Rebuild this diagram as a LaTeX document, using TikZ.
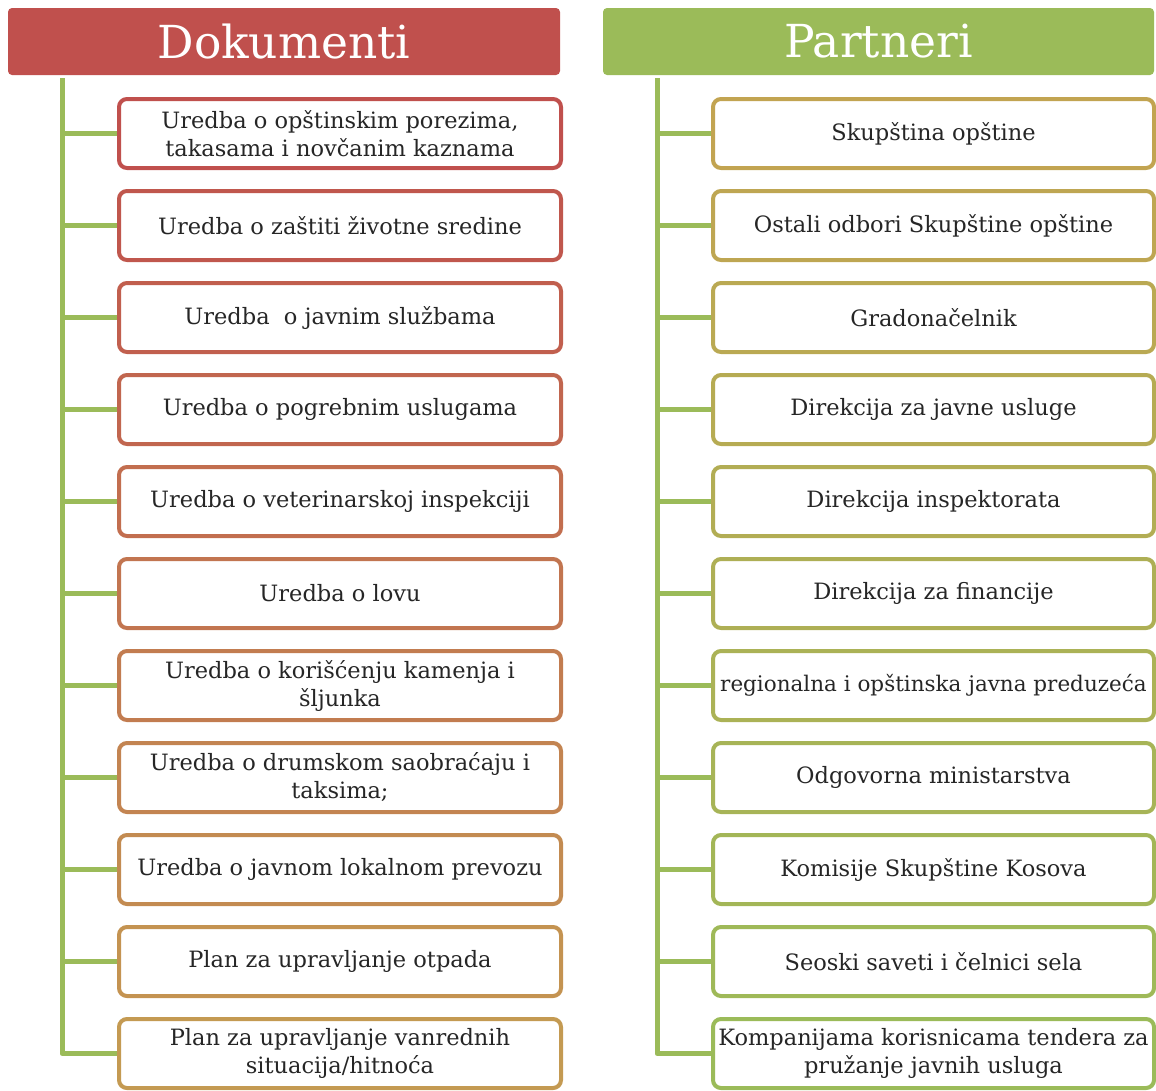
\documentclass[tikz,border=0pt]{standalone}
\usepackage{fontspec}
\setmainfont{DejaVu Serif}
\definecolor{hdrred}{HTML}{C0504D}
\definecolor{hdrgreen}{HTML}{9BBB59}
\definecolor{lstart}{HTML}{C0504D}
\definecolor{lend}{HTML}{C49A52}
\definecolor{rstart}{HTML}{C2A451}
\definecolor{rend}{HTML}{9BBB59}
\definecolor{txt}{HTML}{262626}
\tikzset{
  hdr/.style={rounded corners=4pt, inner sep=0pt, minimum height=67pt, text=white, font=\fontsize{45.5}{50}\selectfont},
  itembox/.style={draw, line width=4pt, rounded corners=8pt, fill=white, inner sep=2pt, align=center, text=txt,
    font=\fontsize{22.5}{28}\selectfont},
  lbox/.style={itembox, minimum width=442pt, minimum height=69pt},
  rbox/.style={itembox, minimum width=441pt, minimum height=69pt},
  conn/.style={draw=hdrgreen, line width=5pt},
}
\begin{document}
\begin{tikzpicture}[x=1pt,y=-1pt]
\useasboundingbox (0,0) rectangle (1156,1090);
% headers
\node[hdr, fill=hdrred, minimum width=552pt] (hl) at (284,41.5) {Dokumenti};
\node[hdr, fill=hdrgreen, minimum width=551pt] (hr) at (878.5,41.5) {Partneri};
% spine coordinates
\coordinate (lt) at (62,78);
\coordinate (rt) at (657,78);
% left boxes
\foreach \i/\t in {
  0/{Uredba o opštinskim porezima,\\takasama i novčanim kaznama},
  1/{Uredba o zaštiti životne sredine},
  2/{Uredba\ \ o javnim službama},
  3/{Uredba o pogrebnim uslugama},
  4/{Uredba o veterinarskoj inspekciji},
  5/{Uredba o lovu},
  6/{Uredba o korišćenju kamenja i\\šljunka},
  7/{Uredba o drumskom saobraćaju i\\taksima;},
  8/{Uredba o javnom lokalnom prevozu},
  9/{Plan za upravljanje otpada},
  10/{Plan za upravljanje vanrednih\\situacija/hitnoća}}{
  \pgfmathtruncatemacro{\pc}{100-10*\i}
  \node[lbox, draw=lstart!\pc!lend] (l\i) at (340,133.5+92*\i) {\t};
  \draw[conn] (l\i.west) -- (62,133.5+92*\i);
}
% right boxes
\foreach \i/\t in {
  0/{Skupština opštine},
  1/{Ostali odbori Skupštine opštine},
  2/{Gradonačelnik},
  3/{Direkcija za javne usluge},
  4/{Direkcija inspektorata},
  5/{Direkcija za financije},
  6/{\fontsize{21.5}{28}\selectfont regionalna i opštinska javna preduzeća},
  7/{Odgovorna ministarstva},
  8/{Komisije Skupštine Kosova},
  9/{Seoski saveti i čelnici sela},
  10/{Kompanijama korisnicama tendera za\\pružanje javnih usluga}}{
  \pgfmathtruncatemacro{\pc}{100-10*\i}
  \node[rbox, draw=rstart!\pc!rend] (r\i) at (933.5,133.5+92*\i) {\t};
  \draw[conn] (r\i.west) -- (657,133.5+92*\i);
}
% spines
\draw[conn, line join=round] (lt) |- (l10.west);
\draw[conn, line join=round] (rt) |- (r10.west);
\end{tikzpicture}
\end{document}
